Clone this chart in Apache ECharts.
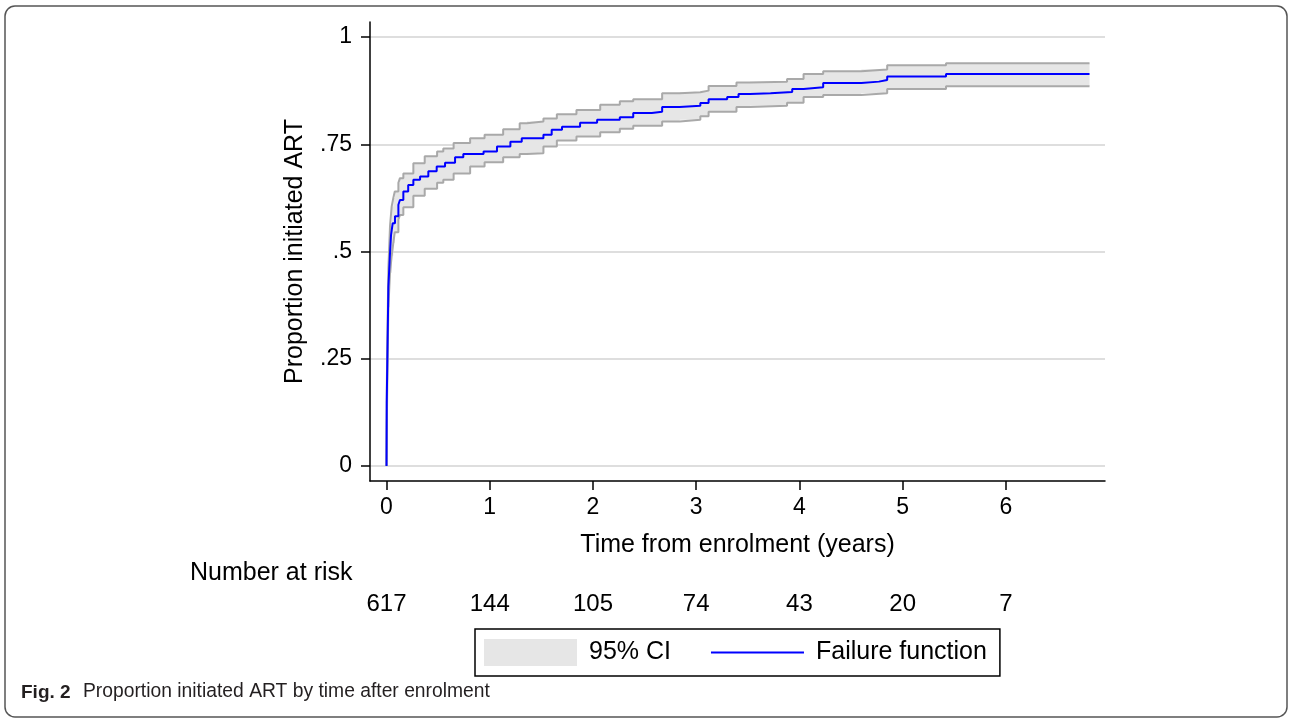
<!DOCTYPE html>
<html>
<head>
<meta charset="utf-8">
<script src="https://cdn.jsdelivr.net/npm/echarts@6/dist/echarts.min.js"></script>
<style>
html,body{margin:0;padding:0;background:#fff;}
#chart{width:1290px;height:719px;}
</style>
</head>
<body>
<div id="chart"></div>
<script>
// ---- Data ----
var failTime = [0, 0.002, 0.008, 0.018, 0.034, 0.044, 0.06, 0.082, 0.115, 0.13, 0.163, 0.21, 0.26, 0.325, 0.405, 0.486, 0.567, 0.664, 0.744, 0.94, 1.07, 1.2, 1.31, 1.52, 1.6, 1.70, 1.875, 2.04, 2.26, 2.39, 2.57, 2.67, 2.84, 3.04, 3.12, 3.30, 3.41, 3.52, 3.72, 3.93, 4.04, 4.23, 4.60, 4.77, 4.85, 5.42, 6.81];
var failValue = [0, 0.147, 0.247, 0.418, 0.497, 0.539, 0.566, 0.582, 0.609, 0.620, 0.640, 0.655, 0.667, 0.675, 0.687, 0.698, 0.707, 0.720, 0.727, 0.733, 0.745, 0.756, 0.764, 0.772, 0.784, 0.791, 0.800, 0.807, 0.813, 0.823, 0.826, 0.837, 0.840, 0.846, 0.855, 0.860, 0.867, 0.869, 0.872, 0.879, 0.883, 0.893, 0.896, 0.900, 0.908, 0.914, 0.914];

var ciTime  = [0, 0.003, 0.008, 0.018, 0.034, 0.05, 0.066, 0.08, 0.115, 0.13, 0.163, 0.26, 0.37, 0.49, 0.55, 0.65, 0.81, 0.95, 1.13, 1.29, 1.36, 1.52, 1.65, 1.84, 2.07, 2.26, 2.39, 2.67, 2.84, 3.04, 3.12, 3.39, 3.52, 3.88, 4.04, 4.23, 4.6, 4.85, 5.42, 6.81];
var ciUpper = [0, 0.19, 0.29, 0.46, 0.56, 0.605, 0.625, 0.640, 0.660, 0.671, 0.682, 0.706, 0.722, 0.733, 0.740, 0.753, 0.764, 0.772, 0.785, 0.799, 0.803, 0.810, 0.820, 0.830, 0.842, 0.850, 0.855, 0.869, 0.871, 0.875, 0.886, 0.894, 0.896, 0.902, 0.914, 0.920, 0.924, 0.934, 0.939, 0.939];
var ciLower = [0, 0.10, 0.20, 0.37, 0.45, 0.49, 0.52, 0.545, 0.575, 0.585, 0.603, 0.630, 0.646, 0.660, 0.667, 0.682, 0.698, 0.708, 0.720, 0.727, 0.729, 0.745, 0.759, 0.768, 0.778, 0.786, 0.793, 0.803, 0.807, 0.815, 0.826, 0.837, 0.840, 0.847, 0.860, 0.865, 0.869, 0.879, 0.885, 0.885];

var xTicks = [0, 1, 2, 3, 4, 5, 6];
var xTickLabels = ['0', '1', '2', '3', '4', '5', '6'];
var yTicks = [0, 0.25, 0.5, 0.75, 1];
var yTickLabels = ['0', '.25', '.5', '.75', '1'];
var atRisk = ['617', '144', '105', '74', '43', '20', '7'];

var FONT = '"Liberation Sans", Arial, Helvetica, sans-serif';

function pairs(xs, ys) { return xs.map(function (x, i) { return [x, ys[i]]; }); }
function labelFor(ticks, labels) {
  return function (v) {
    for (var i = 0; i < ticks.length; i++) if (Math.abs(ticks[i] - v) < 1e-6) return labels[i];
    return '';
  };
}

function renderBand(params, api) {
  var n = ciTime.length, pts = [], i;
  for (i = 0; i < n; i++) {
    pts.push(api.coord([ciTime[i], ciUpper[i]]));
    if (i < n - 1) pts.push(api.coord([ciTime[i + 1], ciUpper[i]]));
  }
  for (i = n - 1; i >= 0; i--) {
    if (i < n - 1) pts.push(api.coord([ciTime[i + 1], ciLower[i]]));
    pts.push(api.coord([ciTime[i], ciLower[i]]));
  }
  return { type: 'polygon', shape: { points: pts }, style: { fill: '#e6e6e6', stroke: null } };
}

var chart = echarts.init(document.getElementById('chart'), null, { renderer: 'canvas' });
var option = {
  animation: false,
  backgroundColor: '#ffffff',
  grid: { left: 370, right: 185, top: 22, bottom: 238, containLabel: false },
  xAxis: [{
    type: 'value', min: -0.16, max: 6.96,
    name: 'Time from enrolment (years)', nameLocation: 'middle', nameGap: 52,
    nameTextStyle: { fontSize: 25, color: '#000', fontFamily: FONT },
    axisLine: { show: true, onZero: false, lineStyle: { color: '#000', width: 1.5 } },
    axisTick: { show: true, length: 9, lineStyle: { color: '#000', width: 1.5 }, customValues: xTicks },
    axisLabel: { fontSize: 23, color: '#000', fontFamily: FONT, margin: 15, customValues: xTicks, formatter: labelFor(xTicks, xTickLabels) },
    splitLine: { show: false }
  }, {
    type: 'value', min: -0.16, max: 6.96, position: 'bottom', offset: 103,
    axisLine: { show: false }, axisTick: { show: false }, splitLine: { show: false },
    axisLabel: { fontSize: 24, color: '#000', fontFamily: FONT, margin: 8, customValues: xTicks,
      formatter: function (v) { return atRisk[Math.round(v)]; } }
  }],
  yAxis: {
    type: 'value', min: -0.035, max: 1.035,
    name: 'Proportion initiated ART', nameLocation: 'middle', nameGap: 62,
    nameTextStyle: { fontSize: 25, color: '#000', fontFamily: FONT },
    axisLine: { show: true, onZero: false, lineStyle: { color: '#000', width: 1.5 } },
    axisTick: { show: true, length: 9, lineStyle: { color: '#000', width: 1.5 }, customValues: yTicks },
    axisLabel: { fontSize: 23, color: '#000', fontFamily: FONT, margin: 18, customValues: yTicks, formatter: labelFor(yTicks, yTickLabels) },
    splitLine: { show: true, lineStyle: { color: '#dedede', width: 2 } }
  },
  legend: {
    left: 475, top: 629,
    orient: 'horizontal',
    borderColor: '#000', borderWidth: 1.5,
    padding: [10, 13, 10, 9],
    itemWidth: 93, itemHeight: 27, itemGap: 40,
    textStyle: { fontSize: 25, color: '#000', fontFamily: FONT, padding: [0, 0, 0, 7] },
    selectedMode: false,
    data: [
      { name: '95% CI', icon: 'rect', itemStyle: { color: '#e6e6e6', borderWidth: 0 } },
      { name: 'Failure function', icon: 'path://M0,0H92V2H0Z', itemStyle: { color: '#0000ff', borderWidth: 0 } }
    ]
  },
  graphic: [
    { type: 'rect', silent: true, z: -1, shape: { x: 5, y: 6, width: 1282, height: 711, r: 10 },
      style: { fill: 'none', stroke: '#555', lineWidth: 1.5 } },
    { type: 'text', left: 190, top: 561, style: { text: 'Number at risk', font: '25px ' + FONT, fill: '#000' } },
    { type: 'text', left: 21, top: 683, style: { text: 'Fig. 2', font: 'bold 19px ' + FONT, fill: '#231f20' } },
    { type: 'text', left: 83, top: 682, style: { text: 'Proportion initiated ART by time after enrolment', font: '19.3px ' + FONT, fill: '#231f20' } }
  ],
  series: [
    { name: '95% CI', type: 'custom', silent: true, renderItem: renderBand, data: [0], z: 1,
      itemStyle: { color: '#e6e6e6' }, clip: true },
    { name: 'ciUpperLine', type: 'line', step: 'end', symbol: 'none', silent: true,
      data: pairs(ciTime, ciUpper), lineStyle: { color: '#a9a9a9', width: 2 }, z: 2 },
    { name: 'ciLowerLine', type: 'line', step: 'end', symbol: 'none', silent: true,
      data: pairs(ciTime, ciLower), lineStyle: { color: '#a9a9a9', width: 2 }, z: 2 },
    { name: 'Failure function', type: 'line', step: 'end', symbol: 'none', silent: true,
      data: pairs(failTime, failValue), lineStyle: { color: '#0000ff', width: 2 }, itemStyle: { color: '#0000ff' }, z: 3 }
  ]
};
chart.setOption(option);
</script>
</body>
</html>
